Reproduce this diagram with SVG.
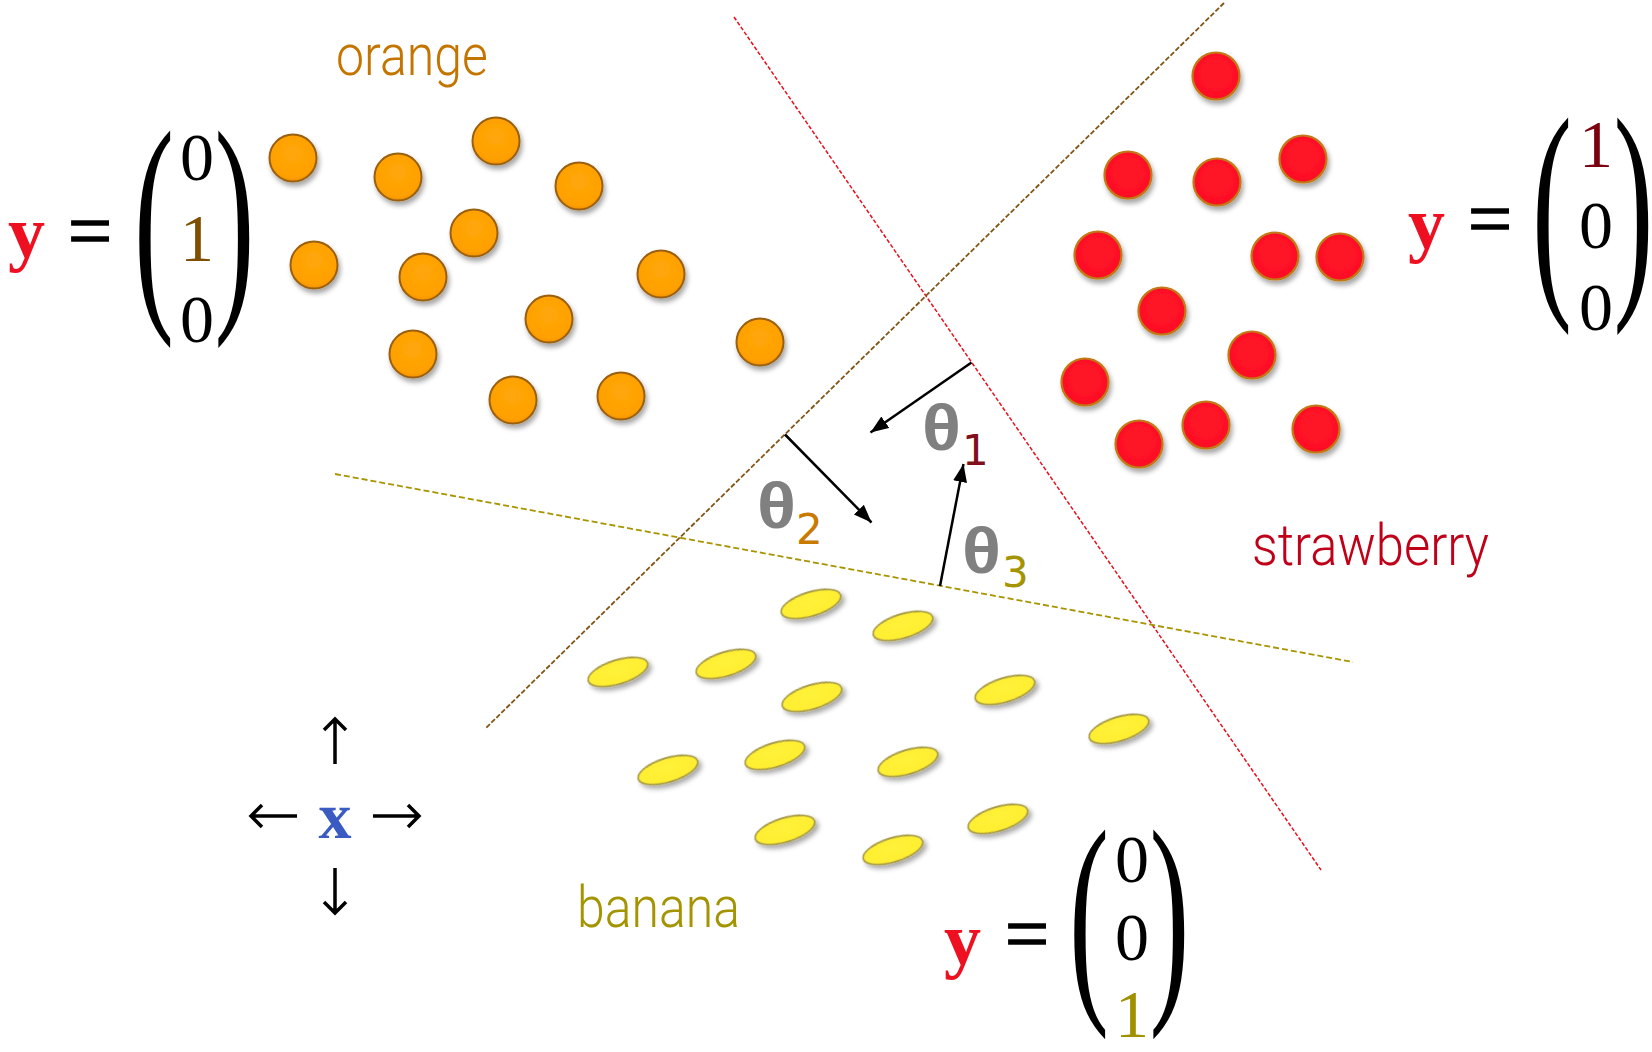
<svg xmlns="http://www.w3.org/2000/svg" width="1652" height="1052" viewBox="0 0 1652 1052">
<defs>
  <filter id="shadow" x="-40%" y="-40%" width="180%" height="200%">
    <feDropShadow dx="2" dy="4" stdDeviation="2.5" flood-color="#000" flood-opacity="0.35"/>
  </filter>
  <radialGradient id="gOrange" cx="50%" cy="40%" r="60%">
    <stop offset="0" stop-color="#ffa70a"/>
    <stop offset="0.85" stop-color="#ffa000"/>
    <stop offset="1" stop-color="#f09000"/>
  </radialGradient>
  <radialGradient id="gRed" cx="50%" cy="45%" r="60%">
    <stop offset="0" stop-color="#ff1528"/>
    <stop offset="0.85" stop-color="#ff1024"/>
    <stop offset="1" stop-color="#e81020"/>
  </radialGradient>
  <radialGradient id="gYellow" cx="50%" cy="40%" r="60%">
    <stop offset="0" stop-color="#fff23a"/>
    <stop offset="0.85" stop-color="#ffee30"/>
    <stop offset="1" stop-color="#f0dc20"/>
  </radialGradient>
  <marker id="head" markerUnits="userSpaceOnUse" markerWidth="20" markerHeight="16" refX="18" refY="7" orient="auto">
    <path d="M0,0 L18,7 L0,14 z" fill="#000"/>
  </marker>
</defs>
<style>
  .or { fill: url(#gOrange); stroke: #9a6010; stroke-width: 2; filter: url(#shadow); }
  .rd { fill: url(#gRed); stroke: #c27a18; stroke-width: 2.2; filter: url(#shadow); }
  .yl { fill: url(#gYellow); stroke: #a89c48; stroke-width: 1.8; filter: url(#shadow); }
  .lbl { font-family: Roboto, "Liberation Sans", sans-serif; font-weight: 300; font-size: 57px; }
  .yv { font-family: "Liberation Serif", serif; font-weight: bold; font-size: 74px; fill: #ee1020; }
  .eq { font-family: "Liberation Serif", serif; font-size: 78px; fill: #000; stroke: #000; stroke-width: 1.6; }
  .par { font-family: "Liberation Serif", serif; font-size: 120px; fill: #000; }
  .dig { font-family: "Liberation Serif", serif; font-size: 68px; text-anchor: middle; fill: #000; }
  .dig.c-brown { fill: #7f4f00; }
  .dig.c-dred { fill: #7a0010; }
  .dig.c-olive { fill: #a09000; }
  .th { font-family: "Liberation Sans", Arial, sans-serif; font-weight: bold; font-size: 64px; fill: #808080; }
  .sub { font-family: "DejaVu Sans", sans-serif; font-size: 42px; }
  .arr { stroke: #000; stroke-width: 2.5; fill: none; }
  .dir { stroke: #000; stroke-width: 3.5; fill: none; }
</style>

<g id="boundaries" fill="none">
  <line x1="734" y1="17" x2="1321" y2="870" stroke="#e8101e" stroke-width="1.5" stroke-dasharray="4 2"/>
  <line x1="1224" y1="3" x2="486" y2="728" stroke="#825515" stroke-width="1.8" stroke-dasharray="5 2"/>
  <line x1="335" y1="474" x2="1353" y2="662" stroke="#a89400" stroke-width="1.8" stroke-dasharray="6 3"/>
</g>

<g id="oranges">
  <g id="orange-1"><circle class="or" cx="293" cy="158" r="23.5"/></g>
  <g id="orange-2"><circle class="or" cx="398" cy="177" r="23.5"/></g>
  <g id="orange-3"><circle class="or" cx="496" cy="141" r="23.5"/></g>
  <g id="orange-4"><circle class="or" cx="579" cy="186" r="23.5"/></g>
  <g id="orange-5"><circle class="or" cx="474" cy="233" r="23.5"/></g>
  <g id="orange-6"><circle class="or" cx="314" cy="265" r="23.5"/></g>
  <g id="orange-7"><circle class="or" cx="423" cy="277" r="23.5"/></g>
  <g id="orange-8"><circle class="or" cx="661" cy="274" r="23.5"/></g>
  <g id="orange-9"><circle class="or" cx="549" cy="319" r="23.5"/></g>
  <g id="orange-10"><circle class="or" cx="413" cy="354" r="23.5"/></g>
  <g id="orange-11"><circle class="or" cx="760" cy="342" r="23.5"/></g>
  <g id="orange-12"><circle class="or" cx="513" cy="400" r="23.5"/></g>
  <g id="orange-13"><circle class="or" cx="621" cy="396" r="23.5"/></g>
</g>

<g id="strawberries">
  <g id="strawberry-1"><circle class="rd" cx="1216" cy="76" r="23.5"/></g>
  <g id="strawberry-2"><circle class="rd" cx="1128" cy="175" r="23.5"/></g>
  <g id="strawberry-3"><circle class="rd" cx="1217" cy="182" r="23.5"/></g>
  <g id="strawberry-4"><circle class="rd" cx="1303" cy="159" r="23.5"/></g>
  <g id="strawberry-5"><circle class="rd" cx="1098" cy="255" r="23.5"/></g>
  <g id="strawberry-6"><circle class="rd" cx="1275" cy="256" r="23.5"/></g>
  <g id="strawberry-7"><circle class="rd" cx="1340" cy="257" r="23.5"/></g>
  <g id="strawberry-8"><circle class="rd" cx="1162" cy="311" r="23.5"/></g>
  <g id="strawberry-9"><circle class="rd" cx="1252" cy="355" r="23.5"/></g>
  <g id="strawberry-10"><circle class="rd" cx="1085" cy="382" r="23.5"/></g>
  <g id="strawberry-11"><circle class="rd" cx="1206" cy="425" r="23.5"/></g>
  <g id="strawberry-12"><circle class="rd" cx="1139" cy="444" r="23.5"/></g>
  <g id="strawberry-13"><circle class="rd" cx="1316" cy="429" r="23.5"/></g>
</g>

<g id="bananas">
  <g id="banana-1"><ellipse class="yl" cx="811" cy="604" rx="31" ry="12" transform="rotate(-17 811 604)"/></g>
  <g id="banana-2"><ellipse class="yl" cx="903" cy="626" rx="31" ry="12" transform="rotate(-17 903 626)"/></g>
  <g id="banana-3"><ellipse class="yl" cx="618" cy="672" rx="31" ry="12" transform="rotate(-17 618 672)"/></g>
  <g id="banana-4"><ellipse class="yl" cx="726" cy="664" rx="31" ry="12" transform="rotate(-17 726 664)"/></g>
  <g id="banana-5"><ellipse class="yl" cx="812" cy="697" rx="31" ry="12" transform="rotate(-17 812 697)"/></g>
  <g id="banana-6"><ellipse class="yl" cx="1005" cy="690" rx="31" ry="12" transform="rotate(-17 1005 690)"/></g>
  <g id="banana-7"><ellipse class="yl" cx="1119" cy="729" rx="31" ry="12" transform="rotate(-17 1119 729)"/></g>
  <g id="banana-8"><ellipse class="yl" cx="668" cy="770" rx="31" ry="12" transform="rotate(-17 668 770)"/></g>
  <g id="banana-9"><ellipse class="yl" cx="775" cy="755" rx="31" ry="12" transform="rotate(-17 775 755)"/></g>
  <g id="banana-10"><ellipse class="yl" cx="908" cy="762" rx="31" ry="12" transform="rotate(-17 908 762)"/></g>
  <g id="banana-11"><ellipse class="yl" cx="785" cy="830" rx="31" ry="12" transform="rotate(-17 785 830)"/></g>
  <g id="banana-12"><ellipse class="yl" cx="893" cy="850" rx="31" ry="12" transform="rotate(-17 893 850)"/></g>
  <g id="banana-13"><ellipse class="yl" cx="998" cy="819" rx="31" ry="12" transform="rotate(-17 998 819)"/></g>
</g>

<g id="connectors">
  <line class="arr" x1="971.5" y1="362.5" x2="870.5" y2="432.5" marker-end="url(#head)"/>
  <line class="arr" x1="785" y1="434.5" x2="871.5" y2="522.5" marker-end="url(#head)"/>
  <line class="arr" x1="940" y1="586" x2="963.5" y2="464" marker-end="url(#head)"/>
</g>

<g id="theta-labels">
  <g id="theta1"><text class="th" x="922" y="450" textLength="39" lengthAdjust="spacingAndGlyphs">θ</text><text class="sub" x="962" y="465" fill="#80101a">1</text></g>
  <g id="theta2"><text class="th" x="757" y="528" textLength="39" lengthAdjust="spacingAndGlyphs">θ</text><text class="sub" x="796" y="544" fill="#c97a00">2</text></g>
  <g id="theta3"><text class="th" x="962" y="573" textLength="39" lengthAdjust="spacingAndGlyphs">θ</text><text class="sub" x="1002" y="587" fill="#a39400">3</text></g>
</g>

<g id="class-labels">
  <text class="lbl" x="336" y="75" fill="#c47500" textLength="152" lengthAdjust="spacingAndGlyphs">orange</text>
  <text class="lbl" x="1252" y="565" fill="#c00018" textLength="237" lengthAdjust="spacingAndGlyphs">strawberry</text>
  <text class="lbl" x="577" y="927" fill="#a39400" textLength="163" lengthAdjust="spacingAndGlyphs">banana</text>
</g>

<g id="eq-orange">
  <text class="yv" x="8" y="257">y</text>
  <text class="eq" x="68" y="257">=</text>
  <text class="par" transform="translate(134,297) scale(1,2)">(</text>
  <text class="par" transform="translate(214.5,297) scale(1,2)">)</text>
  <text class="dig" x="197" y="180">0</text>
  <text class="dig c-brown" x="197" y="261">1</text>
  <text class="dig" x="197" y="342">0</text>
</g>

<g id="eq-strawberry">
  <text class="yv" x="1408" y="248">y</text>
  <text class="eq" x="1468" y="245">=</text>
  <text class="par" transform="translate(1532,284) scale(1,2)">(</text>
  <text class="par" transform="translate(1613.5,284) scale(1,2)">)</text>
  <text class="dig c-dred" x="1596" y="167">1</text>
  <text class="dig" x="1596" y="248">0</text>
  <text class="dig" x="1596" y="330">0</text>
</g>

<g id="eq-banana">
  <text class="yv" x="944" y="964">y</text>
  <text class="eq" x="1005" y="960">=</text>
  <text class="par" transform="translate(1069,990) scale(1,1.92)">(</text>
  <text class="par" transform="translate(1149.5,990) scale(1,1.92)">)</text>
  <text class="dig" x="1132" y="882">0</text>
  <text class="dig" x="1132" y="960">0</text>
  <text class="dig c-olive" x="1132" y="1037">1</text>
</g>

<g id="input-x">
  <text x="335" y="838" text-anchor="middle" font-family="Liberation Serif, serif" font-weight="bold" font-size="66" fill="#3a5cc2">x</text>
  <path class="dir" d="M335,764 V719 M324,730 L335,719 L346,730"/>
  <path class="dir" d="M335,868 V913 M324,902 L335,913 L346,902"/>
  <path class="dir" d="M297,816 H251 M262,805 L251,816 L262,827"/>
  <path class="dir" d="M373,816 H419 M408,805 L419,816 L408,827"/>
</g>
</svg>
